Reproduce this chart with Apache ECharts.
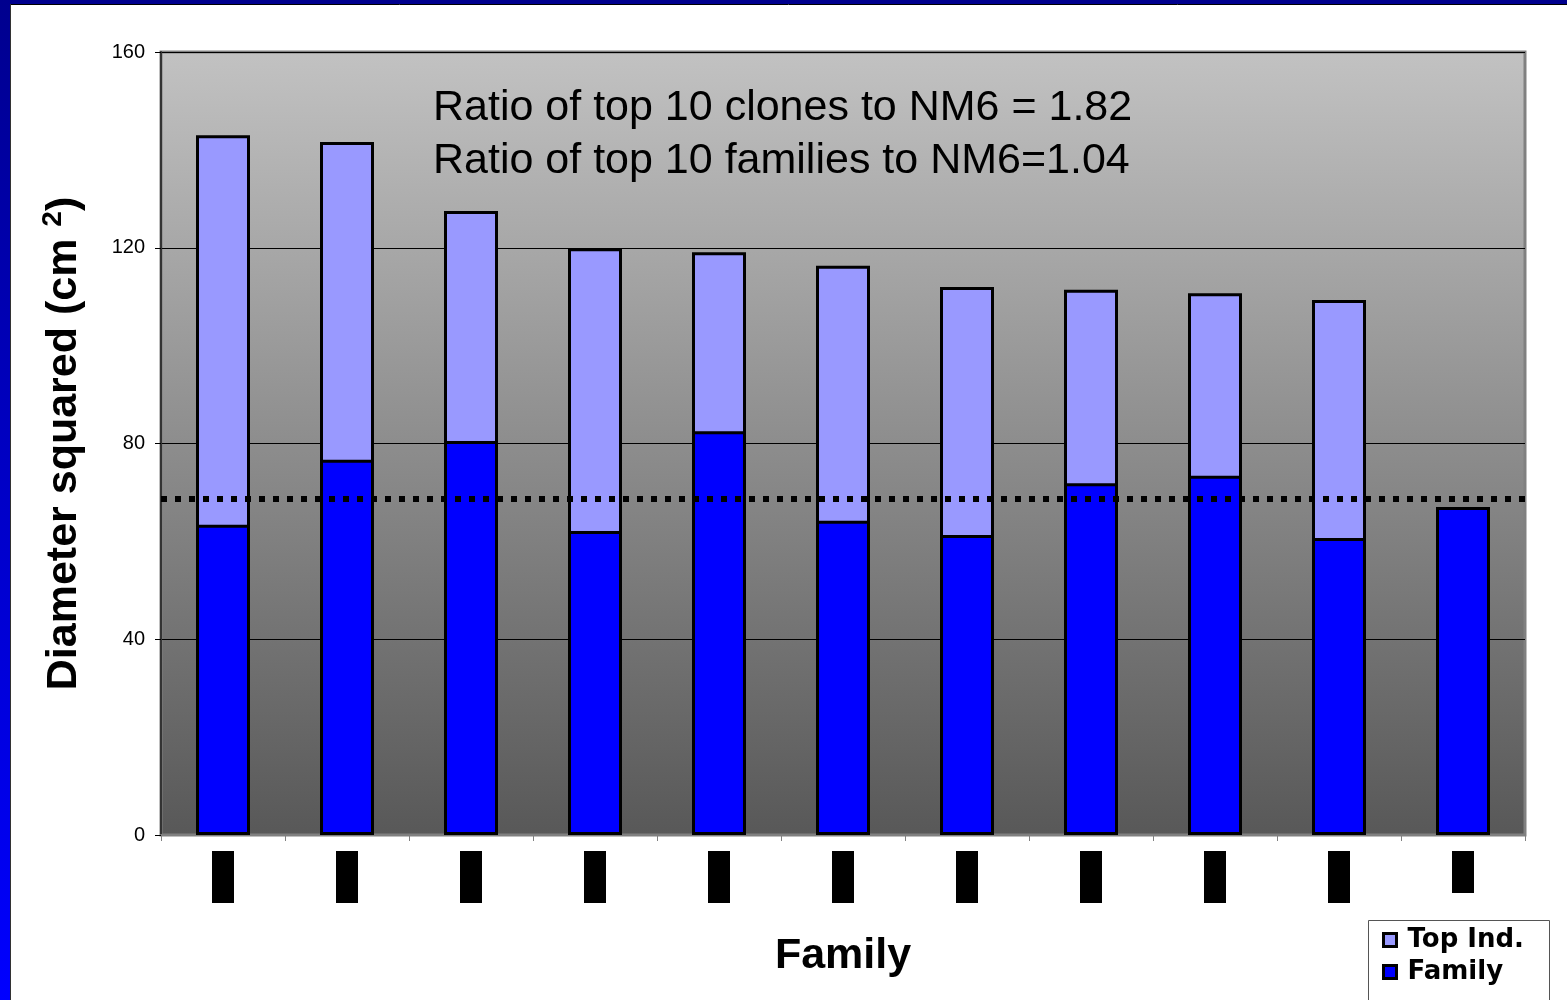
<!DOCTYPE html>
<html>
<head>
<meta charset="utf-8">
<script src="https://cdn.jsdelivr.net/npm/echarts@6/dist/echarts.min.js"></script>
<style>
  html, body { margin: 0; padding: 0; background: #fff; }
  #chart { width: 1567px; height: 1000px; }
</style>
</head>
<body>
<div id="chart"></div>
<script>
// Families ranked by best individual; the last column is the NM6 check.
const families = ['F1', 'F2', 'F3', 'F4', 'F5', 'F6', 'F7', 'F8', 'F9', 'F10', 'NM6'];
// Diameter squared (cm^2) of the top individual in each family
const topIndValues = [143.0, 141.6, 127.5, 119.9, 119.1, 116.3, 112.0, 111.4, 110.7, 109.3, null];
// Family mean diameter squared (cm^2)
const familyValues = [63.4, 76.7, 80.5, 62.1, 82.5, 64.2, 61.3, 71.9, 73.4, 60.7, 67.0];
// Reference level drawn as a dotted line
const referenceLevel = [68.7];
const yTicks = { min: 0, max: 160, interval: 40 };
const noteLines = [
  'Ratio of top 10 clones to NM6 = 1.82',
  'Ratio of top 10 families to NM6=1.04'
];

const FONT = '"Liberation Sans", Arial, sans-serif';
const chart = echarts.init(document.getElementById('chart'), null, { renderer: 'canvas' });

const barBorder = { borderColor: '#000', borderWidth: 3 };

chart.setOption({
  animation: false,
  backgroundColor: '#fff',
  textStyle: { fontFamily: FONT },
  grid: {
    left: 161, top: 52, right: 42, bottom: 165,
    show: true,
    borderColor: '#808080',
    borderWidth: 3,
    backgroundColor: {
      type: 'linear', x: 0, y: 0, x2: 0, y2: 1,
      colorStops: [
        { offset: 0, color: '#c2c2c2' },
        { offset: 1, color: '#585858' }
      ]
    }
  },
  legend: {
    orient: 'vertical',
    left: 1370, top: 925,
    data: ['Top Ind.', 'Family'],
    itemWidth: 13, itemHeight: 13,
    itemGap: 6,
    padding: [2, 4, 2, 12],
    icon: 'rect',
    itemStyle: { borderColor: '#000', borderWidth: 3 },
    textStyle: { fontFamily: '"DejaVu Sans", sans-serif', fontWeight: 'bold', fontSize: 26, color: '#000', padding: [0, 0, 0, 6] }
  },
  xAxis: {
    type: 'category',
    data: families,
    name: 'Family',
    nameLocation: 'middle',
    nameGap: 100,
    nameTextStyle: { fontFamily: FONT, fontWeight: 'bold', fontSize: 43, color: '#000' },
    axisLine: { show: true, lineStyle: { color: '#808080', width: 2 } },
    axisTick: { show: true, length: 6, lineStyle: { color: '#808080', width: 1 } },
    axisLabel: {
      margin: 16,
      formatter: function (v) { return v === 'NM6' ? '{s|' + v + '}' : '{l|' + v + '}'; },
      rich: {
        l: { width: 22, height: 52, backgroundColor: '#000', color: '#000', fontSize: 6, align: 'center' },
        s: { width: 22, height: 42, backgroundColor: '#000', color: '#000', fontSize: 6, align: 'center' }
      }
    },
    splitLine: { show: false }
  },
  yAxis: {
    type: 'value',
    min: yTicks.min, max: yTicks.max, interval: yTicks.interval,
    name: 'Diameter squared (cm {sup|2})',
    nameLocation: 'middle',
    nameRotate: 90,
    nameGap: 72,
    nameTextStyle: {
      fontFamily: FONT, fontWeight: 'bold', fontSize: 43, color: '#000',
      rich: {
        sup: { fontFamily: FONT, fontWeight: 'bold', fontSize: 28, color: '#000', verticalAlign: 'top', padding: [0, 0, 22, 0] }
      }
    },
    axisLine: { show: true, lineStyle: { color: '#333', width: 2 } },
    axisTick: { show: true, length: 6, lineStyle: { color: '#000', width: 1 } },
    axisLabel: { margin: 16, fontFamily: FONT, fontSize: 20, color: '#000' },
    splitLine: { show: true, lineStyle: { color: '#000', width: 1 } }
  },
  series: [
    {
      name: 'Top Ind.',
      type: 'bar',
      data: topIndValues,
      barWidth: 54,
      barGap: '-100%',
      itemStyle: Object.assign({ color: '#9999ff' }, barBorder),
      z: 2
    },
    {
      name: 'Family',
      type: 'bar',
      data: familyValues,
      barWidth: 54,
      barGap: '-100%',
      itemStyle: Object.assign({ color: '#0000ff' }, barBorder),
      z: 3,
      markLine: {
        silent: true,
        symbol: 'none',
        label: { show: false },
        lineStyle: { color: '#000', width: 6, type: [6, 8], cap: 'butt' },
        data: referenceLevel.map(v => ({ yAxis: v })),
        z: 10
      }
    }
  ],
  graphic: [
    // slide frame: navy band on top, blue gradient band on the left
    {
      type: 'rect', left: 0, top: 0, z: 100,
      shape: { width: 1567, height: 4 },
      style: { fill: '#00008e' }
    },
    {
      type: 'rect', left: 0, top: 0, z: 100,
      shape: { width: 10, height: 1000 },
      style: {
        fill: {
          type: 'linear', x: 0, y: 0, x2: 0, y2: 1,
          colorStops: [
            { offset: 0, color: '#00008e' },
            { offset: 0.5, color: '#0000c8' },
            { offset: 1, color: '#0000ff' }
          ]
        }
      }
    },
    {
      type: 'line', z: 100,
      shape: { x1: 10, y1: 4.5, x2: 1567, y2: 4.5 },
      style: { stroke: '#000', lineWidth: 1 }
    },
    {
      type: 'line', z: 100,
      shape: { x1: 10.5, y1: 4, x2: 10.5, y2: 1000 },
      style: { stroke: '#333', lineWidth: 1 }
    },
    // legend box, running off the bottom edge
    {
      type: 'rect', z: -1,
      shape: { x: 1368.5, y: 920.5, width: 181, height: 100 },
      style: { fill: '#fff', stroke: '#555', lineWidth: 1 }
    },
    {
      type: 'text', left: 433, top: 87, z: 50,
      style: { text: noteLines[0], fontFamily: FONT, fontSize: 43, fill: '#000' }
    },
    {
      type: 'text', left: 433, top: 140, z: 50,
      style: { text: noteLines[1], fontFamily: FONT, fontSize: 43, fill: '#000' }
    }
  ]
});
</script>
</body>
</html>
